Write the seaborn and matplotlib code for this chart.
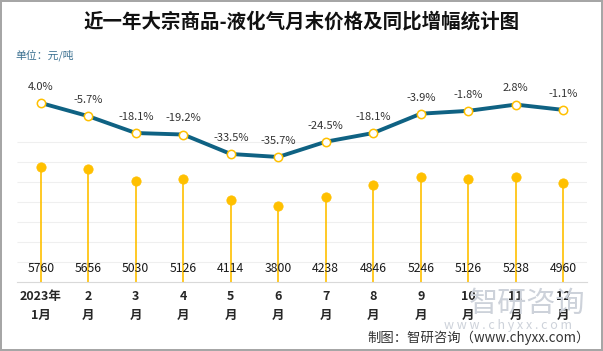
import numpy as np
import pandas as pd
import matplotlib.pyplot as plt
import seaborn as sns

# data
months = ['2023年\n1月', '2\n月', '3\n月', '4\n月', '5\n月', '6\n月',
          '7\n月', '8\n月', '9\n月', '10\n月', '11\n月', '12\n月']
price = [5760, 5656, 5030, 5126, 4114, 3800, 4238, 4846, 5246, 5126, 5238, 4960]
yoy = [4.0, -5.7, -18.1, -19.2, -33.5, -35.7, -24.5, -18.1, -3.9, -1.8, 2.8, -1.1]

df = pd.DataFrame({'month': months, 'price': price, 'yoy': yoy})
df['x'] = np.arange(len(df))

sns.set_style('white')
plt.rcParams['font.family'] = ['Noto Sans CJK SC', 'DejaVu Sans']
plt.rcParams['axes.unicode_minus'] = False
plt.rcParams['ytick.major.size'] = 0
plt.rcParams['ytick.minor.size'] = 0
plt.rcParams['ytick.left'] = False
plt.rcParams['ytick.labelleft'] = False

gold = '#FFC000'
teal = '#0F6283'

fig = plt.figure(figsize=(6.03, 3.51), dpi=100)
ax = fig.add_axes([17 / 603, (351 - 282) / 351, 570 / 603, 200 / 351])

# watermark (behind everything)
fig.text(527 / 603, 1 - 304 / 351, '智研咨询', ha='center', va='center',
         fontsize=21, color='#CDD2DA', zorder=0)
fig.text(508 / 603, 1 - 325 / 351, 'w w w . c h y x x . c o m', ha='center',
         va='center', fontsize=9, color='#CDD2DA', zorder=0)

# light horizontal guides
ax.grid(False)
ax.hlines(range(1000, 8000, 1000), -0.5, 11.5, color='#EFEFEF', lw=0.8, zorder=0)

# stems with dots
ax.vlines(df['x'], 0, df['price'], color=gold, lw=1.2, zorder=2)
sns.scatterplot(data=df, x='x', y='price', ax=ax, color=gold, s=45,
                edgecolor=gold, zorder=3, legend=False)
for _, r in df.iterrows():
    ax.text(r['x'], 700, f"{r['price']}", ha='center', va='center',
            fontsize=8.8, color='#1A1A1A', zorder=4)

# yoy line on secondary axis
ax2 = ax.twinx()
sns.lineplot(data=df, x='x', y='yoy', ax=ax2, color=teal, lw=2.8, zorder=3)
ax2.plot(df['x'], df['yoy'], 'o', ms=6, mfc='white', mec=gold, mew=1.1, zorder=4)
for _, r in df.iterrows():
    ax2.annotate(f"{r['yoy']:.1f}%", (r['x'], r['yoy']), xytext=(0, 8),
                 textcoords='offset points', ha='center', va='bottom',
                 fontsize=8, color='#333333')
ax2.set_ylim(-127.6, 19.4)
ax2.set_xlim(-0.5, 11.5)
ax2.axis('off')

ax.set_xlim(-0.5, 11.5)
ax.set_ylim(0, 10000)
ax.set_yticks([])
ax.set_xticks(df['x'])
ax.set_xticklabels(df['month'], fontsize=9, fontweight='bold', linespacing=1.6)
ax.tick_params(axis='x', length=0, pad=6)
for s in ['top', 'right', 'left']:
    ax.spines[s].set_visible(False)
ax.spines['bottom'].set_color('#D9D9D9')
ax.set_xlabel('')
ax.set_ylabel('')

fig.text(0.5, 1 - 22 / 351, '近一年大宗商品-液化气月末价格及同比增幅统计图',
         ha='center', va='center', fontsize=14, fontweight='bold', color='#111111')
fig.text(15 / 603, 1 - 55 / 351, '单位：元/吨', ha='left', va='center',
         fontsize=7.8, color='#3C7191')
fig.text(590 / 603, 1 - 338 / 351, '制图：智研咨询（www.chyxx.com）', ha='right',
         va='center', fontsize=9.6, color='#333333')

fig.patch.set_edgecolor('#A6A6A6')
fig.patch.set_linewidth(1.5)
fig.savefig('out.png', dpi=100, edgecolor=fig.get_edgecolor())
